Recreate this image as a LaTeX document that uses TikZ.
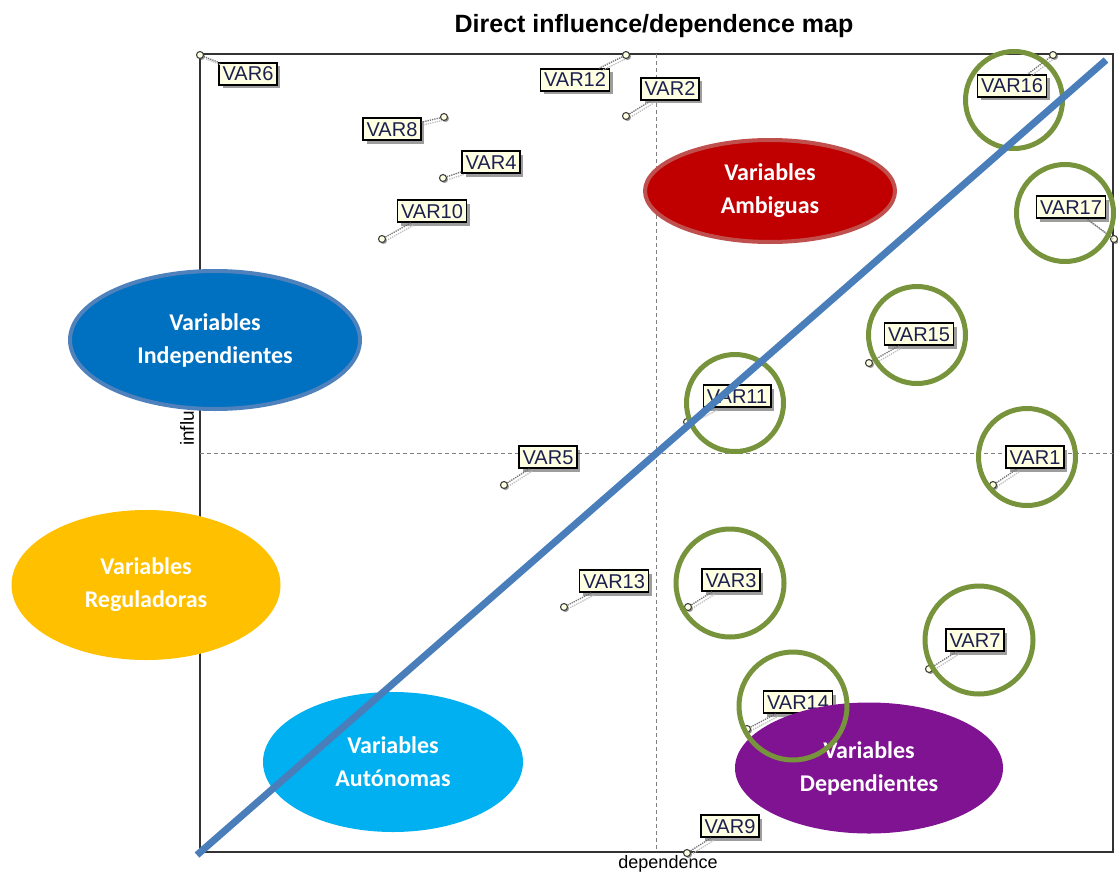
\documentclass[tikz,border=0pt]{standalone}
\usepackage{fontspec}
\setmainfont{Liberation Sans}
\newfontfamily\calib{Carlito}
\usetikzlibrary{shapes.geometric,shadows}
\definecolor{labfill}{HTML}{FFFFE1}
\definecolor{labtext}{HTML}{1C2050}
\definecolor{framec}{HTML}{333333}
\definecolor{gcol}{HTML}{77933C}
\definecolor{bluel}{HTML}{4A7EBB}
\definecolor{ambig}{HTML}{C00000}
\definecolor{ambigb}{HTML}{C0504D}
\definecolor{indep}{HTML}{0070C0}
\definecolor{indepb}{HTML}{4F81BD}
\definecolor{regul}{HTML}{FFC000}
\definecolor{auton}{HTML}{00B0F0}
\definecolor{depen}{HTML}{7F1391}
\begin{document}
\begin{tikzpicture}[x=1pt,y=-1pt,
  lab/.style={draw=black, line width=1.6pt, fill=labfill, inner xsep=3.5pt, inner ysep=4pt,
    text height=14pt, text depth=0pt, font=\fontsize{20}{20}\selectfont, text=labtext,
    drop shadow={shadow xshift=3.5pt, shadow yshift=-3.5pt, fill=black!70, opacity=0.55}},
  pt/.style={circle, draw=black!75, line width=1.1pt, fill=labfill, minimum size=7pt, inner sep=0pt,
    drop shadow={shadow xshift=1.5pt, shadow yshift=-1.5pt, fill=black!70, opacity=0.6}},
  lead/.style={draw=black!55, densely dotted, line width=1.3pt},
  leadsh/.style={draw=black!25, densely dotted, line width=1.3pt, transform canvas={xshift=2.5pt, yshift=-2.5pt}},
  quad/.style={ellipse, inner sep=0pt, text=white, align=center,
    font=\calib\bfseries\fontsize{24}{33}\selectfont},
  gcirc/.style={circle, draw=gcol, line width=5pt, inner sep=0pt},
  midl/.style={draw=black!50, dashed, dash pattern=on 4pt off 3pt, line width=0.9pt}
]
\useasboundingbox (0,0) rectangle (1118,872);
% title and axis labels
\node[font=\bfseries\fontsize{25}{25}\selectfont] (title) at (654,26) {Direct influence/dependence map};
\node[font=\fontsize{18}{18}\selectfont, anchor=north, inner sep=0pt] (xlab) at (668,855) {dependence};
\node[font=\fontsize{19}{19}\selectfont, rotate=90, anchor=west, inner sep=0pt] (ylab) at (187,446) {influence};
% frame and mid lines
\draw[framec, line width=1.4pt] (200,54) rectangle (1113,852);
\coordinate (vt) at (656,54); \coordinate (vb) at (656,852);
\coordinate (hl) at (200,453); \coordinate (hr) at (1113,453);
\draw[midl] (vt) -- (vb);
\draw[midl] (hl) -- (hr);
% points
\node[pt] (p1) at (993,485) {};
\node[pt] (p2) at (626,116) {};
\node[pt] (p3) at (688,607) {};
\node[pt] (p4) at (443,178) {};
\node[pt] (p5) at (504,485) {};
\node[pt] (p6) at (200,55) {};
\node[pt] (p7) at (929,669) {};
\node[pt] (p8) at (444,117) {};
\node[pt] (p9) at (687,853) {};
\node[pt] (p10) at (382,239) {};
\node[pt] (p11) at (687,422) {};
\node[pt] (p12) at (626,55) {};
\node[pt] (p13) at (564,607) {};
\node[pt] (p14) at (747,729) {};
\node[pt] (p15) at (869,363) {};
\node[pt] (p16) at (1053,55) {};
\node[pt] (p17) at (1114,239) {};
% labels
\node[lab] (l1) at (1035,457) {VAR1};
\node[lab] (l2) at (670,89) {VAR2};
\node[lab] (l3) at (731,580) {VAR3};
\node[lab] (l4) at (491,162) {VAR4};
\node[lab] (l5) at (548,457) {VAR5};
\node[lab] (l6) at (248,74) {VAR6};
\node[lab] (l7) at (975,640) {VAR7};
\node[lab] (l8) at (392,129) {VAR8};
\node[lab] (l9) at (730,826) {VAR9};
\node[lab] (l10) at (432,211) {VAR10};
\node[lab] (l11) at (737,396) {VAR11};
\node[lab] (l12) at (575,80) {VAR12};
\node[lab] (l13) at (614,581) {VAR13};
\node[lab] (l14) at (798,702) {VAR14};
\node[lab] (l15) at (919,334) {VAR15};
\node[lab] (l16) at (1012,86) {VAR16};
\node[lab] (l17) at (1071,207) {VAR17};
% leaders
\foreach \i in {1,...,17} { \draw[leadsh] (p\i) -- (l\i); \draw[lead] (p\i) -- (l\i); }
% quadrant ellipses
\node[quad, fill=ambig, draw=ambigb, line width=4pt, minimum width=250pt, minimum height=102pt] (eamb) at (770,191) {Variables\\Ambiguas};
\node[quad, fill=indep, draw=indepb, line width=4pt, minimum width=290pt, minimum height=138pt] (eind) at (215,340) {Variables\\Independientes};
\node[quad, fill=regul, minimum width=269pt, minimum height=150pt] (ereg) at (146,585) {Variables\\Reguladoras};
\node[quad, fill=auton, minimum width=260pt, minimum height=140pt] (eaut) at (393,762) {Variables\\Autónomas};
\node[quad, fill=depen, minimum width=268pt, minimum height=131pt] (edep) at (869,768) {Variables\\Dependientes};
% green circles
\node[gcirc, minimum size=97pt] (c16) at (1014,100) {};
\node[gcirc, minimum size=97pt] (c17) at (1065,213) {};
\node[gcirc, minimum size=97pt] (c15) at (917,335) {};
\node[gcirc, minimum size=97pt] (c11) at (735,403) {};
\node[gcirc, minimum size=97pt] (c1) at (1027,457) {};
\node[gcirc, minimum size=108pt] (c3) at (730,583) {};
\node[gcirc, minimum size=108pt] (c7) at (979,640) {};
\node[gcirc, minimum size=108pt] (c14) at (793,706) {};
% diagonal
\coordinate (d1) at (197,855);
\coordinate (d2) at (1106,60);
\draw[bluel, line width=7pt] (d1) -- (d2);
\end{tikzpicture}
\end{document}
